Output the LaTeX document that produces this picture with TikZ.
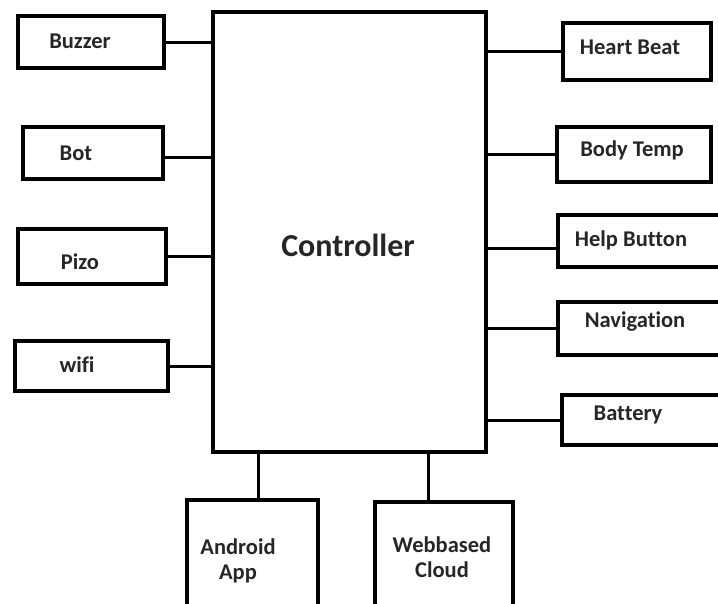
\documentclass[tikz,border=0pt]{standalone}
\usepackage{fontspec}
\setmainfont[Ligatures=NoCommon]{Carlito}
\begin{document}
\begin{tikzpicture}[x=1pt,y=-1pt,
  box/.style={draw=black, line width=4pt, rectangle, inner sep=0pt},
  lbl/.style={font=\bfseries\fontsize{22.5}{25}\selectfont, text=black!85, inner sep=0pt, anchor=center},
  wire/.style={draw=black, line width=3pt}]
\clip (0,0) rectangle (718,603);
\fill[white] (0,0) rectangle (718,603);
% controller
\node[box, minimum width=273pt, minimum height=440pt] (ctrl) at (349.5,232) {};
\node[font=\bfseries\fontsize{32}{36}\selectfont, text=black!85, inner sep=0pt] (ctrlt) at (348,245) {Controller};
% left boxes
\node[box, minimum width=146pt, minimum height=52pt] (bz) at (91,42) {};
\node[lbl] (bzt) at (80,41) {Buzzer};
\node[box, minimum width=140pt, minimum height=52pt] (bot) at (93,152.5) {};
\node[lbl] (bott) at (76,153) {Bot};
\node[box, minimum width=148pt, minimum height=55pt] (pz) at (92,256.5) {};
\node[lbl] (pzt) at (80,262) {Pizo};
\node[box, minimum width=153pt, minimum height=50pt] (wf) at (91.5,366) {};
\node[lbl] (wft) at (77,365) {wif{}i};
% right boxes
\node[box, minimum width=148pt, minimum height=57pt] (hb) at (637,51.5) {};
\node[lbl] (hbt) at (630,47) {Heart Beat};
\node[box, minimum width=154pt, minimum height=55pt] (bt) at (634,154.5) {};
\node[lbl] (btt) at (632,150) {Body Temp};
\node[box, minimum width=164pt, minimum height=52pt] (hp) at (640,241) {};
\node[lbl] (hpt) at (631,240) {Help But{}ton};
\node[box, minimum width=164pt, minimum height=53pt] (nv) at (640,328.5) {};
\node[lbl] (nvt) at (635,322) {Navigation};
\node[box, minimum width=160pt, minimum height=50pt] (ba) at (642,420) {};
\node[lbl] (bat) at (628,415) {Bat{}tery};
% bottom boxes
\node[box, minimum width=131pt, minimum height=120pt] (an) at (252.5,560) {};
\node[lbl, align=center] (ant) at (238,561) {Android\\App};
\node[box, minimum width=138pt, minimum height=118pt] (wb) at (444,561) {};
\node[lbl, align=center] (wbt) at (442,557) {Webbased\\Cloud};
% connectors left
\draw[wire] (bz.east) -- (bz.east -| ctrl.west);
\draw[wire] ([yshift=-5pt]bot.east) -- ([yshift=-5pt]bot.east -| ctrl.west);
\draw[wire] (pz.east) -- (pz.east -| ctrl.west);
\draw[wire] (wf.east) -- (wf.east -| ctrl.west);
% connectors right
\draw[wire] (hb.west) -- (hb.west -| ctrl.east);
\draw[wire] (bt.west) -- (bt.west -| ctrl.east);
\draw[wire] ([yshift=-7pt]hp.west) -- ([yshift=-7pt]hp.west -| ctrl.east);
\draw[wire] (nv.west) -- (nv.west -| ctrl.east);
\draw[wire] (ba.west) -- (ba.west -| ctrl.east);
% connectors bottom
\draw[wire] ([xshift=6pt]an.north) -- ([xshift=6pt]an.north |- ctrl.south);
\draw[wire] ([xshift=-16pt]wb.north) -- ([xshift=-16pt]wb.north |- ctrl.south);
\end{tikzpicture}
\end{document}
